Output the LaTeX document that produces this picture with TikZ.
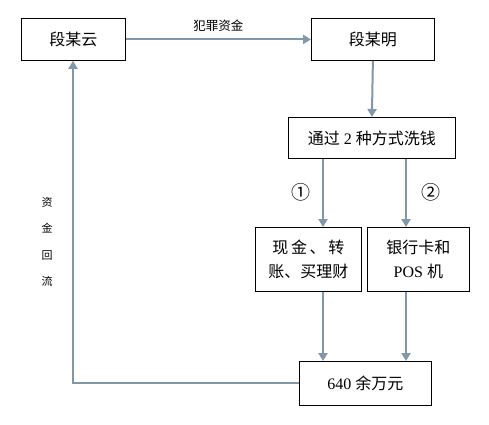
\documentclass[tikz,border=0pt]{standalone}
\usepackage{fontspec}
\setmainfont{Liberation Serif}
\newfontfamily\cjk{Noto Sans CJK SC}
\usetikzlibrary{arrows.meta}
\definecolor{arr}{HTML}{8298A9}
\begin{document}
\begin{tikzpicture}[x=1pt,y=-1pt,
  box/.style={draw=black,line width=0.8pt,inner sep=0pt,anchor=north west,align=center,font=\fontsize{16}{24}\selectfont},
  conn/.style={draw=arr,line width=2pt,-{Triangle[width=9pt,length=8pt]}},
  lbl/.style={font=\fontsize{12.5}{14}\selectfont\cjk,inner sep=0pt}]
\useasboundingbox[fill=white] (0,0) rectangle (489,424);
\node[box,minimum width=104pt,minimum height=42pt] (a) at (21,18) {\cjk 段某云};
\node[box,minimum width=123pt,minimum height=42pt] (b) at (311,18) {\cjk 段某明};
\node[box,minimum width=167pt,minimum height=41pt] (c) at (288,117) {{\cjk 通过} 2 {\cjk 种方式洗钱}};
\node[box,minimum width=106pt,minimum height=64pt] (d) at (255,227) {{\cjk 现\,金\,、\,转}\\{\cjk 账、买理财}};
\node[box,minimum width=102pt,minimum height=64pt] (e) at (367,227) {{\cjk 银行卡和}\\POS {\cjk 机}};
\node[box,minimum width=132pt,minimum height=44pt] (f) at (299,361) {640 {\cjk 余万元}};
\coordinate (a1) at (73,60);
\coordinate (fr) at (73,383);
\draw[conn] (a.east) -- (b.west) node[midway,above=14pt,lbl,anchor=center] (l1) {犯罪资金};
\draw[conn] (b.south) -- (c.north);
\draw[conn] (c.south -| 323,0) -- (d.north -| 323,0);
\draw[conn] (c.south -| 406,0) -- (e.north -| 406,0);
\node[font=\fontsize{19}{19}\selectfont\cjk,inner sep=0pt] (n1) at (301,192) {①};
\node[font=\fontsize{19}{19}\selectfont\cjk,inner sep=0pt] (n2) at (431,192) {②};
\draw[conn] (d.south -| 323,0) -- (f.north -| 323,0);
\draw[conn] (e.south -| 406,0) -- (f.north -| 406,0);
\draw[conn] (f.west |- fr) -- (fr) -- (a.south -| a1);
\node[inner sep=0pt,align=center,font=\fontsize{11}{26.5}\selectfont\cjk] (v) at (47,242) {资\\金\\回\\流};
\end{tikzpicture}
\end{document}
